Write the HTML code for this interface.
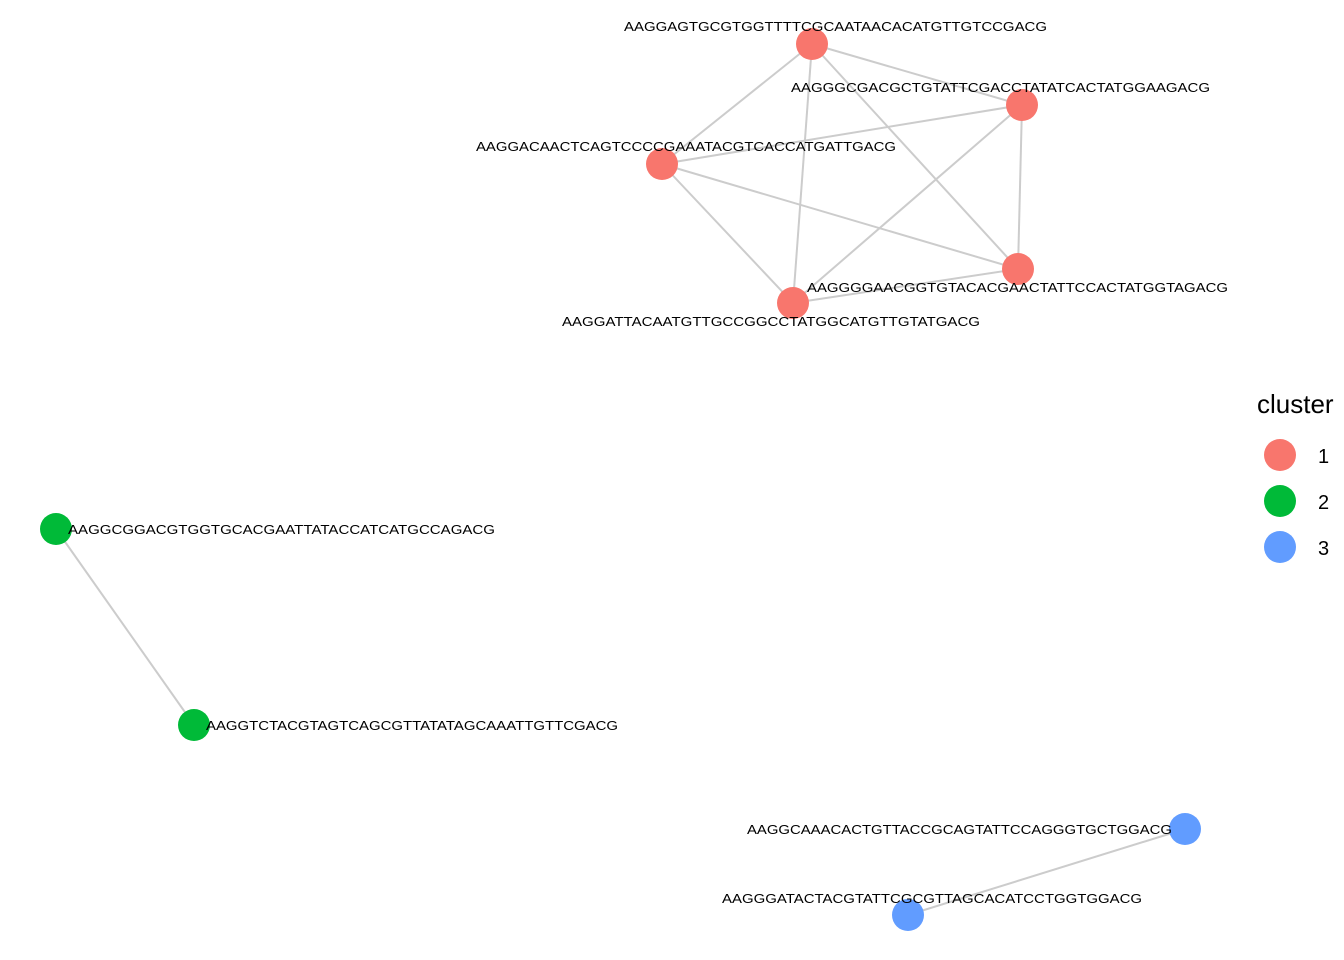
<!DOCTYPE html>
<html><head><style>html,body{margin:0;padding:0;background:#fff}svg{display:block}</style></head><body>
<svg width="1344" height="960" xmlns="http://www.w3.org/2000/svg" font-family="Liberation Sans, sans-serif">
<rect width="1344" height="960" fill="#fff"/>
<g stroke="#cccccc" stroke-width="2">
<line x1="812" y1="44" x2="1022" y2="105"/>
<line x1="812" y1="44" x2="662" y2="164"/>
<line x1="812" y1="44" x2="793" y2="303"/>
<line x1="812" y1="44" x2="1018" y2="269"/>
<line x1="1022" y1="105" x2="662" y2="164"/>
<line x1="1022" y1="105" x2="793" y2="303"/>
<line x1="1022" y1="105" x2="1018" y2="269"/>
<line x1="662" y1="164" x2="1018" y2="269"/>
<line x1="662" y1="164" x2="793" y2="303"/>
<line x1="1018" y1="269" x2="793" y2="303"/>
<line x1="56" y1="529" x2="194" y2="725"/>
<line x1="1185" y1="829" x2="908" y2="915"/>
</g>
<g fill="#F8766D">
<circle cx="812" cy="44" r="16"/><circle cx="1022" cy="105" r="16"/><circle cx="662" cy="164" r="16"/><circle cx="1018" cy="269" r="16"/><circle cx="793" cy="303" r="16"/>
</g>
<g fill="#00BA38"><circle cx="56" cy="529" r="16"/><circle cx="194" cy="725" r="16"/></g>
<g fill="#619CFF"><circle cx="1185" cy="829" r="16"/><circle cx="908" cy="915" r="16"/></g>
<g font-size="13" fill="#000">
<text x="624" y="31" textLength="423" lengthAdjust="spacingAndGlyphs">AAGGAGTGCGTGGTTTTCGCAATAACACATGTTGTCCGACG</text>
<text x="791" y="92" textLength="419" lengthAdjust="spacingAndGlyphs">AAGGGCGACGCTGTATTCGACCTATATCACTATGGAAGACG</text>
<text x="476" y="151" textLength="420" lengthAdjust="spacingAndGlyphs">AAGGACAACTCAGTCCCCGAAATACGTCACCATGATTGACG</text>
<text x="807" y="292" textLength="421" lengthAdjust="spacingAndGlyphs">AAGGGGAACGGTGTACACGAACTATTCCACTATGGTAGACG</text>
<text x="562" y="326" textLength="418" lengthAdjust="spacingAndGlyphs">AAGGATTACAATGTTGCCGGCCTATGGCATGTTGTATGACG</text>
<text x="68" y="534" textLength="427" lengthAdjust="spacingAndGlyphs">AAGGCGGACGTGGTGCACGAATTATACCATCATGCCAGACG</text>
<text x="206" y="730" textLength="412" lengthAdjust="spacingAndGlyphs">AAGGTCTACGTAGTCAGCGTTATATAGCAAATTGTTCGACG</text>
<text x="747" y="834" textLength="425" lengthAdjust="spacingAndGlyphs">AAGGCAAACACTGTTACCGCAGTATTCCAGGGTGCTGGACG</text>
<text x="722" y="903" textLength="420" lengthAdjust="spacingAndGlyphs">AAGGGATACTACGTATTCGCGTTAGCACATCCTGGTGGACG</text>
</g>
<text x="1257" y="413" font-size="26" fill="#000">cluster</text>
<circle cx="1280" cy="455" r="16" fill="#F8766D"/>
<circle cx="1280" cy="501" r="16" fill="#00BA38"/>
<circle cx="1280" cy="547" r="16" fill="#619CFF"/>
<g font-size="20" fill="#000">
<text x="1318" y="463">1</text><text x="1318" y="509">2</text><text x="1318" y="555">3</text>
</g>
</svg>
</body></html>
